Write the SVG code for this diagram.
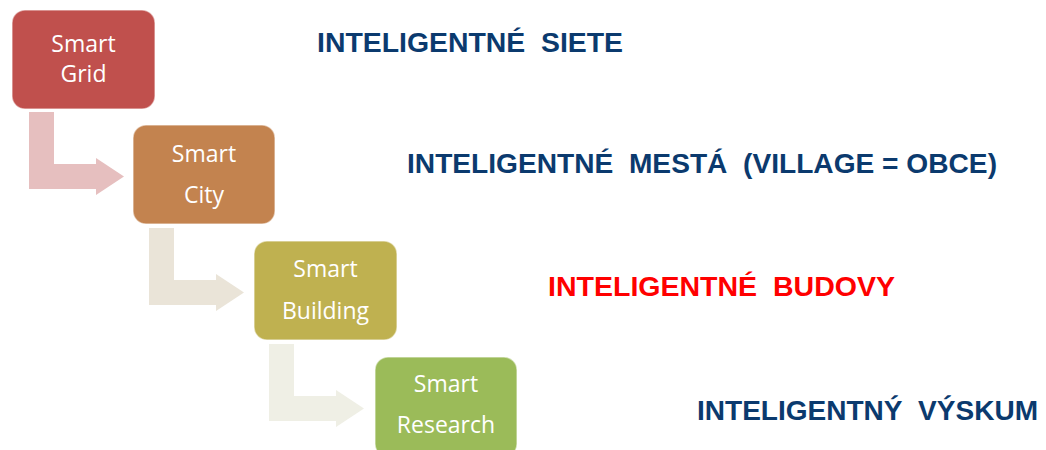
<svg xmlns="http://www.w3.org/2000/svg" width="1046" height="450" viewBox="0 0 1046 450">
<style>
.box{stroke:#ffffff;stroke-opacity:0.5;stroke-width:1.5}
.nt{font-family:"Open Sans","Liberation Sans",sans-serif;font-size:23px;fill:#ffffff;text-anchor:middle}
.lb{font-family:"Liberation Sans",Arial,sans-serif;font-size:27px;font-weight:bold;fill:#0B3A6E}
</style>
<rect width="1046" height="450" fill="#ffffff"/>
<g id="connectors">
<path d="M29,112 H54 V164 H96 V158 L124,176.5 L96,195 V189 H29 Z" fill="#E6BFBF"/>
<path d="M149,228 H174 V280 H216 V274 L244,292.5 L216,311 V305 H149 Z" fill="#EAE4D8"/>
<path d="M269,344 H294 V396 H336 V390 L364,408.5 L336,427 V421 H269 Z" fill="#EFEFE5"/>
</g>
<g id="grid">
<rect class="box" x="12" y="10" width="143" height="99" rx="13" fill="#C0504D"/>
<text class="nt" x="83.5" y="52">Smart</text>
<text class="nt" x="83.5" y="82">Grid</text>
</g>
<g id="city">
<rect class="box" x="133" y="125" width="142" height="99" rx="13" fill="#C3834F"/>
<text class="nt" x="204" y="162">Smart</text>
<text class="nt" x="204" y="203">City</text>
</g>
<g id="building">
<rect class="box" x="254" y="241" width="143" height="99" rx="13" fill="#BFB150"/>
<text class="nt" x="325.5" y="277">Smart</text>
<text class="nt" x="325.5" y="319">Building</text>
</g>
<g id="research">
<rect class="box" x="375" y="357" width="142" height="100" rx="13" fill="#9BBB59"/>
<text class="nt" x="446" y="392">Smart</text>
<text class="nt" x="446" y="433">Research</text>
</g>
<g id="labels">
<text class="lb" x="317" y="52" textLength="306" lengthAdjust="spacingAndGlyphs">INTELIGENTNÉ&#160; SIETE</text>
<text class="lb" x="407" y="173" textLength="590" lengthAdjust="spacingAndGlyphs">INTELIGENTNÉ&#160; MESTÁ&#160; (VILLAGE = OBCE)</text>
<text class="lb" x="548" y="296" textLength="347" lengthAdjust="spacingAndGlyphs" style="fill:#FF0000">INTELIGENTNÉ&#160; BUDOVY</text>
<text class="lb" x="697" y="420" textLength="341" lengthAdjust="spacingAndGlyphs">INTELIGENTNÝ&#160; VÝSKUM</text>
</g>
</svg>
